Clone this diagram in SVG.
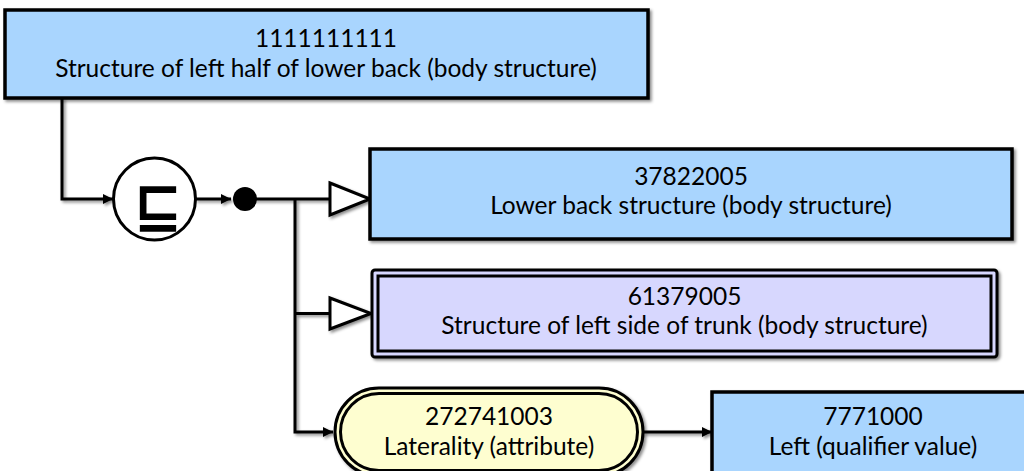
<svg xmlns="http://www.w3.org/2000/svg" width="1024" height="471" viewBox="0 0 1024 471">
<defs>
<marker id="arr" viewBox="0 0 10 10" refX="10" refY="5" markerWidth="10" markerHeight="10" markerUnits="userSpaceOnUse" orient="auto">
<path d="M0,0 L10,5 L0,10 Z" fill="#000"/>
</marker>
<filter id="sh" x="-5%" y="-5%" width="110%" height="120%">
<feDropShadow dx="2" dy="2" stdDeviation="1.5" flood-color="#000" flood-opacity="0.45"/>
</filter>
</defs>
<style>
.box{fill:#a9d5fe;stroke:#000;stroke-width:3.5}
.prim{fill:#d7d7fe;stroke:#000;stroke-width:3}
.attr{fill:#fefed0;stroke:#000;stroke-width:3}
.ln{fill:none;stroke:#000;stroke-width:3}
.tri{fill:#fff;stroke:#000;stroke-width:3;stroke-linejoin:miter}
.t{font-family:Lato,"Open Sans",sans-serif;font-size:24.5px;fill:#000;text-anchor:middle}
</style>
<rect width="1024" height="471" fill="#fff"/>
<g id="connectors" filter="url(#sh)">
<path class="ln" d="M62,98 V199 H113" marker-end="url(#arr)"/>
<path class="ln" d="M195,199 H231" marker-end="url(#arr)"/>
<path class="ln" d="M253,199 H330"/>
<path class="ln" d="M295,199 V432 H333" marker-end="url(#arr)"/>
<path class="ln" d="M295,313.5 H330"/>
<path class="tri" d="M330,183 L370,199 L330,215 Z"/>
<path class="tri" d="M330,298 L371,313.5 L330,329 Z"/>
<path class="ln" d="M643,432 H712" marker-end="url(#arr)"/>
</g>
<g id="n1111111111">
<rect class="box" x="5" y="10" width="643" height="88" filter="url(#sh)"/>
<text class="t" x="326" y="47">1111111111</text>
<text class="t" x="326" y="77">Structure of left half of lower back (body structure)</text>
</g>
<g id="subsumption">
<circle cx="154.5" cy="199" r="41" fill="#fff" stroke="#000" stroke-width="3"/>
<text x="158" y="225" font-family="DejaVu Sans,sans-serif" font-weight="bold" font-size="58" text-anchor="middle">⊑</text>
</g>
<g id="conj">
<circle cx="245" cy="199" r="12" fill="#000"/>
</g>
<g id="n37822005">
<rect class="box" x="370" y="149" width="642" height="90" filter="url(#sh)"/>
<text class="t" x="691" y="185">37822005</text>
<text class="t" x="691" y="214">Lower back structure (body structure)</text>
</g>
<g id="n61379005">
<rect class="prim" x="372" y="270" width="625" height="87" rx="3" filter="url(#sh)"/>
<rect class="prim" x="378" y="276" width="613" height="75"/>
<text class="t" x="684.5" y="305">61379005</text>
<text class="t" x="684.5" y="334">Structure of left side of trunk (body structure)</text>
</g>
<g id="n272741003">
<rect class="attr" x="335" y="388" width="308" height="88" rx="44" filter="url(#sh)"/>
<rect class="attr" x="340.5" y="393.5" width="297" height="77" rx="38.5"/>
<text class="t" x="489" y="425">272741003</text>
<text class="t" x="489" y="455">Laterality (attribute)</text>
</g>
<g id="n7771000">
<rect class="box" x="712" y="392" width="322" height="82" filter="url(#sh)"/>
<text class="t" x="873" y="425">7771000</text>
<text class="t" x="873" y="455">Left (qualifier value)</text>
</g>
</svg>
